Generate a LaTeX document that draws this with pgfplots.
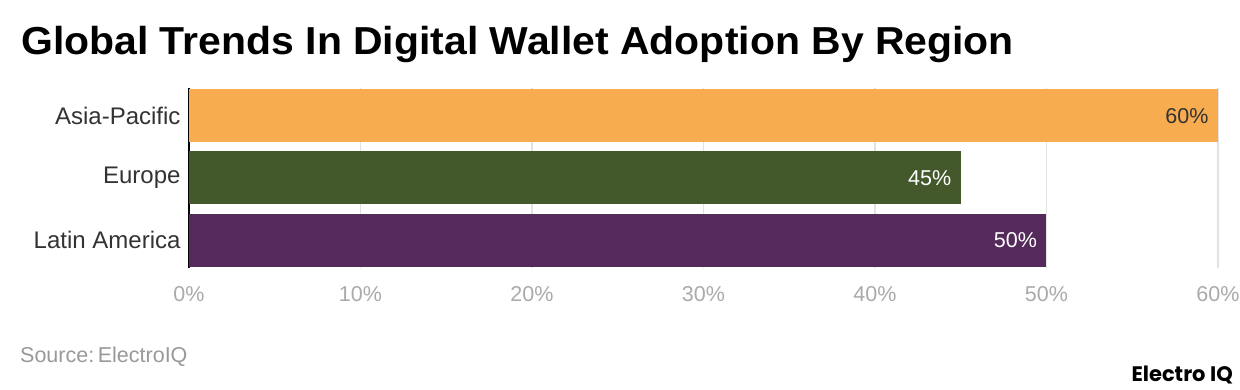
\documentclass[border=0pt]{standalone}
\usepackage{pgfplots}
\pgfplotsset{compat=1.18}
\usepackage{fontspec}
\setmainfont{Liberation Sans}
\newfontfamily\titlefont[FakeStretch=1.05]{Liberation Sans}
\newfontfamily\logofont{Poppins}
\definecolor{cOrange}{HTML}{F7AC50}
\definecolor{cGreen}{HTML}{44592B}
\definecolor{cPurple}{HTML}{532A5A}
\definecolor{cGrid}{HTML}{E2E2E2}
\definecolor{cTick}{HTML}{AAAAAA}
\definecolor{cLab}{HTML}{333333}
\definecolor{cSrc}{HTML}{999999}
\begin{document}
\begin{tikzpicture}
\useasboundingbox (0pt,0pt) rectangle (1240pt,390pt);
\fill[white] (0pt,0pt) rectangle (1240pt,390pt);
\node[anchor=base west, inner sep=0pt, font=\titlefont\bfseries\fontsize{39}{44}\selectfont] at (21pt,335pt) {Global Trends In Digital Wallet Adoption By Region};
\begin{axis}[
  at={(189pt,122pt)}, anchor=south west,
  scale only axis, width=1029pt, height=180pt,
  xmin=0, xmax=60, ymin=-0.45, ymax=2.45,
  xbar, bar width=53pt, bar shift=0pt,
  xtick={0,10,...,60},
  xticklabel={\pgfmathprintnumber{\tick}\%},
  /pgf/number format/assume math mode=true,
  ytick={0,1,2},
  yticklabels={Latin America,Europe,Asia-Pacific},
  major tick length=0pt,
  xmajorgrids, grid style={cGrid, line width=1.5pt},
  axis x line*=bottom, axis y line*=left,
  x axis line style={draw=none},
  y axis line style={black, line width=1.2pt, -},
  xticklabel style={font=\fontsize{21.5}{24}\selectfont, text=cTick, yshift=-15pt},
  yticklabel style={font=\fontsize{24}{28}\selectfont, text=cLab, xshift=-5pt},
  nodes near coords={\pgfmathprintnumber{\pgfplotspointmeta}\%},
  every node near coord/.append style={anchor=east, xshift=-6pt, font=\fontsize{21.5}{24}\selectfont},
  clip=false,
]
\addplot[fill=cOrange, draw=none, every node near coord/.append style={text=cLab}] coordinates {(60,2)};
\addplot[fill=cGreen, draw=none, every node near coord/.append style={text=white}] coordinates {(45,1)};
\addplot[fill=cPurple, draw=none, every node near coord/.append style={text=white}] coordinates {(50,0)};
\end{axis}
\node[anchor=base west, inner sep=0pt, text=cSrc, font=\fontsize{21.5}{24}\selectfont] at (20pt,27pt) {Source:\,ElectroIQ};
\node[anchor=base east, inner sep=0pt, font=\logofont\bfseries\fontsize{21}{24}\selectfont] at (1233pt,8pt) {Electro IQ};
\end{tikzpicture}
\end{document}
